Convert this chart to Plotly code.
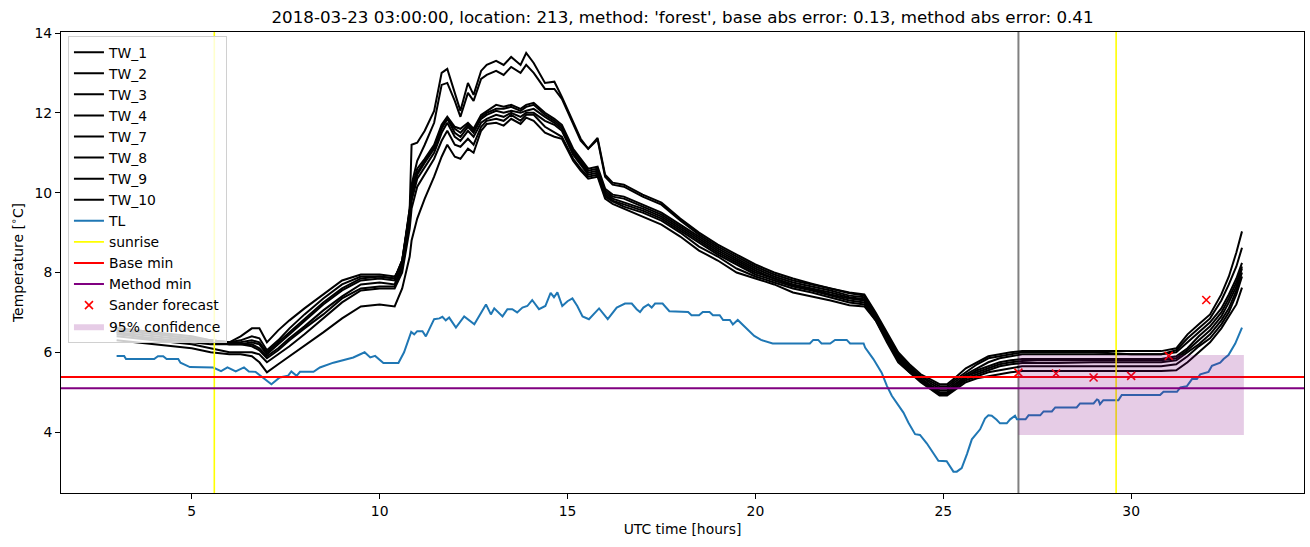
import plotly.graph_objects as go

# ---------------- data ----------------
HOURS = [3.0, 3.5, 4.0, 4.5, 5.0, 5.5, 6.0, 6.3, 6.6, 6.8, 7.0, 7.3, 7.6, 8.0, 8.5, 9.0, 9.5, 10.0, 10.4,
         10.6, 10.8, 10.85, 11.0,
         11.2, 11.45, 11.65, 11.8, 12.0, 12.15, 12.35, 12.5, 12.7, 12.85, 13.1, 13.3, 13.5, 13.75, 13.9, 14.1,
         14.4, 14.65, 14.85, 15.15, 15.35, 15.55, 15.8, 16.0, 16.2, 16.5,
         17.0, 17.5, 18.0, 18.5, 19.0, 19.5, 20.0, 20.5, 21.0, 21.5, 22.0, 22.5, 22.9,
         23.2, 23.5, 23.8, 24.1, 24.4, 24.7, 24.9, 25.1, 25.3, 25.6, 25.9, 26.2, 26.5, 26.8, 27.1,
         27.5, 28.0, 29.0, 30.0, 30.8, 31.2, 31.5, 31.8, 32.1, 32.4, 32.6, 32.8, 32.95]

TW_1 = [6.6, 6.55, 6.5, 6.45, 6.4, 6.3, 6.25, 6.4, 6.6, 6.6, 6.25, 6.55, 6.8, 7.1, 7.45, 7.8, 7.95, 7.95, 7.9,
        8.2, 9.6, 11.2, 11.25,
        11.55, 12.05, 13.0, 13.1, 12.5, 12.05, 12.75, 12.45, 13.05, 13.2, 13.3, 13.2, 13.4, 13.2, 13.5, 13.25,
        12.75, 12.78, 12.4, 11.75, 11.35, 11.1, 11.37, 10.45, 10.25, 10.2,
        9.95, 9.75, 9.35, 9.0, 8.7, 8.45, 8.2, 8.0, 7.85, 7.72, 7.6, 7.5, 7.45,
        7.0, 6.5, 6.0, 5.7, 5.45, 5.3, 5.2, 5.2, 5.35, 5.6, 5.75, 5.9, 5.95, 6.0, 6.03,
        6.03, 6.03, 6.03, 6.03, 6.03, 6.1, 6.45, 6.7, 6.95, 7.45, 7.9, 8.5, 9.03]
TW_2 = [6.6, 6.55, 6.5, 6.4, 6.35, 6.3, 6.25, 6.3, 6.4, 6.35, 6.05, 6.3, 6.6, 6.95, 7.35, 7.7, 7.9, 7.9, 7.85,
        8.3, 9.5, 10.2, 10.8,
        11.2, 11.75, 12.7, 12.75, 12.3, 11.9, 12.5, 12.3, 12.85, 12.95, 13.05, 12.95, 13.15, 13.0, 13.2, 13.0,
        12.6, 12.6, 12.35, 11.7, 11.3, 11.1, 11.33, 10.4, 10.2, 10.15,
        9.9, 9.7, 9.3, 8.95, 8.65, 8.4, 8.15, 7.95, 7.8, 7.7, 7.6, 7.48, 7.42,
        6.95, 6.45, 5.95, 5.65, 5.4, 5.25, 5.15, 5.15, 5.3, 5.5, 5.7, 5.85, 5.9, 5.95, 6.0,
        6.0, 6.0, 6.0, 5.95, 5.95, 6.05, 6.35, 6.6, 6.85, 7.3, 7.7, 8.15, 8.62]
TW_3 = [6.55, 6.5, 6.45, 6.4, 6.35, 6.3, 6.25, 6.25, 6.3, 6.25, 6.0, 6.25, 6.5, 6.85, 7.25, 7.6, 7.85, 7.9, 7.85,
        8.3, 9.6, 10.1, 10.6,
        10.85, 11.2, 11.7, 11.9, 11.65, 11.6, 11.75, 11.6, 11.95, 12.05, 12.2, 12.15, 12.2, 12.1, 12.2, 12.25,
        12.0, 11.85, 11.7, 11.1, 10.85, 10.6, 10.65, 10.1, 9.95, 9.9,
        9.7, 9.5, 9.2, 8.9, 8.6, 8.35, 8.1, 7.9, 7.75, 7.65, 7.55, 7.42, 7.38,
        6.9, 6.4, 5.9, 5.6, 5.4, 5.2, 5.1, 5.1, 5.25, 5.45, 5.6, 5.75, 5.85, 5.9, 5.95,
        5.95, 5.95, 5.95, 5.95, 5.95, 6.0, 6.25, 6.5, 6.75, 7.1, 7.45, 7.85, 8.24]
TW_4 = [6.5, 6.45, 6.4, 6.35, 6.3, 6.25, 6.2, 6.2, 6.25, 6.2, 5.95, 6.2, 6.45, 6.8, 7.2, 7.55, 7.8, 7.85, 7.8,
        8.3, 9.5, 10.0, 10.5,
        10.8, 11.15, 11.65, 11.85, 11.6, 11.5, 11.7, 11.55, 11.9, 12.0, 12.1, 12.1, 12.15, 12.05, 12.15, 12.2,
        11.95, 11.8, 11.65, 11.05, 10.8, 10.55, 10.6, 10.05, 9.9, 9.85,
        9.65, 9.45, 9.15, 8.85, 8.55, 8.3, 8.05, 7.85, 7.7, 7.6, 7.5, 7.38, 7.33,
        6.9, 6.4, 5.9, 5.6, 5.35, 5.15, 5.05, 5.05, 5.2, 5.4, 5.55, 5.65, 5.75, 5.8, 5.83,
        5.83, 5.83, 5.83, 5.83, 5.83, 5.9, 6.1, 6.4, 6.65, 7.0, 7.35, 7.75, 8.15]
TW_7 = [6.5, 6.4, 6.35, 6.3, 6.3, 6.25, 6.2, 6.2, 6.2, 6.1, 5.9, 6.1, 6.35, 6.65, 7.05, 7.4, 7.7, 7.75, 7.7,
        8.2, 9.4, 9.9, 10.45,
        10.75, 11.1, 11.6, 11.85, 11.5, 11.4, 11.65, 11.5, 11.85, 11.95, 12.05, 12.0, 12.05, 12.0, 12.05, 12.1,
        11.9, 11.75, 11.6, 11.0, 10.75, 10.5, 10.55, 10.0, 9.85, 9.75,
        9.6, 9.4, 9.1, 8.8, 8.5, 8.25, 8.0, 7.85, 7.68, 7.58, 7.45, 7.35, 7.3,
        6.85, 6.35, 5.85, 5.55, 5.35, 5.15, 5.0, 5.0, 5.15, 5.4, 5.5, 5.6, 5.7, 5.75, 5.78,
        5.8, 5.8, 5.8, 5.8, 5.8, 5.85, 6.05, 6.3, 6.55, 6.9, 7.25, 7.65, 8.1]
TW_8 = [6.45, 6.4, 6.3, 6.3, 6.25, 6.2, 6.2, 6.2, 6.15, 6.05, 5.85, 6.05, 6.3, 6.6, 6.95, 7.35, 7.6, 7.65, 7.65,
        8.1, 9.3, 9.8, 10.35,
        10.65, 11.0, 11.5, 11.75, 11.4, 11.3, 11.55, 11.4, 11.75, 11.85, 11.95, 11.9, 12.0, 11.9, 12.0, 12.0,
        11.8, 11.7, 11.55, 10.95, 10.7, 10.45, 10.5, 9.95, 9.8, 9.7,
        9.55, 9.35, 9.05, 8.75, 8.45, 8.2, 7.95, 7.8, 7.65, 7.55, 7.42, 7.3, 7.25,
        6.85, 6.3, 5.85, 5.55, 5.3, 5.1, 4.97, 4.97, 5.1, 5.35, 5.45, 5.55, 5.65, 5.7, 5.73,
        5.73, 5.73, 5.75, 5.75, 5.75, 5.8, 6.0, 6.2, 6.45, 6.8, 7.1, 7.55, 8.0]
TW_9 = [6.4, 6.35, 6.3, 6.25, 6.2, 6.1, 6.0, 6.0, 6.0, 5.95, 5.75, 5.95, 6.15, 6.45, 6.85, 7.25, 7.55, 7.6, 7.6,
        8.0, 9.1, 9.6, 10.15,
        10.45, 10.85, 11.3, 11.55, 11.2, 11.15, 11.35, 11.2, 11.65, 11.8, 11.85, 11.8, 11.95, 11.8, 11.95, 11.95,
        11.65, 11.5, 11.4, 10.85, 10.6, 10.4, 10.45, 9.9, 9.78, 9.65,
        9.5, 9.3, 9.0, 8.65, 8.4, 8.1, 7.9, 7.75, 7.6, 7.5, 7.38, 7.25, 7.2,
        6.8, 6.3, 5.8, 5.5, 5.3, 5.1, 4.95, 4.95, 5.1, 5.3, 5.4, 5.5, 5.55, 5.6, 5.65,
        5.65, 5.65, 5.65, 5.65, 5.65, 5.7, 5.9, 6.15, 6.35, 6.7, 7.0, 7.45, 7.9]
TW_10 = [6.3, 6.25, 6.2, 6.15, 6.1, 6.0, 5.95, 5.95, 5.9, 5.75, 5.5, 5.7, 5.9, 6.15, 6.5, 6.85, 7.15, 7.2, 7.15,
         7.6, 8.4, 8.8, 9.35,
         9.85, 10.4, 10.9, 11.2, 10.9, 10.85, 11.1, 11.0, 11.55, 11.72, 11.75, 11.68, 11.85, 11.72, 11.88, 11.8,
         11.5, 11.4, 11.35, 10.8, 10.55, 10.35, 10.4, 9.85, 9.72, 9.6,
         9.4, 9.2, 8.9, 8.55, 8.3, 8.0, 7.85, 7.7, 7.5, 7.4, 7.3, 7.18, 7.15,
         6.8, 6.25, 5.75, 5.5, 5.25, 5.05, 4.92, 4.92, 5.05, 5.25, 5.35, 5.4, 5.45, 5.5, 5.53,
         5.53, 5.53, 5.53, 5.53, 5.53, 5.55, 5.75, 6.0, 6.25, 6.6, 6.9, 7.2, 7.62]

TL_HOURS = [3.0, 3.2, 3.25, 4.0, 4.1, 4.24, 4.33, 4.64, 4.7, 4.95, 5.57, 5.78, 5.95, 6.17, 6.39, 6.52, 6.7, 6.88,
            7.12, 7.34, 7.56, 7.65, 7.79, 7.88, 8.24, 8.41, 8.77, 9.3, 9.6, 9.75, 9.88, 10.1, 10.5, 10.65, 10.8,
            10.84, 10.92, 11.0, 11.14, 11.23, 11.45, 11.59, 11.67, 11.76, 11.85, 12.03, 12.25, 12.38, 12.52,
            12.83, 12.96, 13.05, 13.27, 13.4, 13.53, 13.66, 13.8, 13.93, 14.06, 14.24, 14.41, 14.55, 14.64,
            14.73, 14.86, 15.0, 15.13, 15.26, 15.4, 15.57, 15.84, 16.07, 16.31, 16.53, 16.71, 16.84, 16.93,
            17.02, 17.15, 17.24, 17.33, 17.53, 17.71, 18.21, 18.3, 18.5, 18.6, 18.78, 18.87, 19.05, 19.14,
            19.32, 19.4, 19.53, 19.75, 19.97, 20.15, 20.46, 21.45, 21.54, 21.67, 21.76, 21.99, 22.12, 22.43,
            22.52, 22.88, 22.92, 23.14, 23.36, 23.5, 23.63, 23.94, 24.07, 24.25, 24.38, 24.56, 24.69, 24.87,
            25.09, 25.27, 25.36, 25.49, 25.63, 25.76, 25.98, 26.11, 26.2, 26.29, 26.42, 26.51, 26.69, 26.78,
            26.91, 26.96, 27.19, 27.27, 27.58, 27.67, 27.89, 27.98, 28.55, 28.64, 29.0, 29.09, 29.13, 29.17,
            29.26, 29.66, 29.75, 30.77, 30.86, 31.22, 31.31, 31.48, 31.62, 31.75, 31.84, 32.06, 32.15, 32.37,
            32.46, 32.59, 32.77, 32.95]
TL_TEMP = [5.91, 5.91, 5.83, 5.83, 5.9, 5.9, 5.83, 5.83, 5.74, 5.63, 5.62, 5.53, 5.62, 5.52, 5.62, 5.52, 5.51, 5.37,
           5.2, 5.37, 5.41, 5.52, 5.41, 5.51, 5.51, 5.62, 5.74, 5.87, 6.0, 5.87, 5.91, 5.73, 5.73, 6.0, 6.37,
           6.51, 6.45, 6.53, 6.53, 6.4, 6.83, 6.85, 6.89, 6.8, 6.87, 6.62, 6.9, 6.8, 6.7,
           7.2, 6.95, 7.1, 6.9, 7.08, 7.08, 7.0, 7.12, 7.16, 7.31, 7.08, 7.16, 7.49, 7.38,
           7.5, 7.16, 7.28, 7.35, 7.16, 6.9, 6.83, 7.1, 6.83, 7.12, 7.22, 7.22, 7.08, 7.01,
           7.12, 7.2, 7.12, 7.22, 7.22, 7.03, 7.01, 6.93, 6.93, 7.01, 7.01, 6.93, 6.93, 6.81,
           6.81, 6.7, 6.81, 6.62, 6.41, 6.31, 6.22, 6.22, 6.31, 6.31, 6.22, 6.22, 6.31, 6.31,
           6.22, 6.22, 6.12, 5.83, 5.49, 5.16, 4.91, 4.49, 4.24, 3.95, 3.93, 3.72, 3.53, 3.28,
           3.27, 3.01, 3.01, 3.1, 3.45, 3.82, 4.07, 4.34, 4.42, 4.41, 4.31, 4.22, 4.22, 4.32,
           4.41, 4.32, 4.32, 4.42, 4.42, 4.52, 4.52, 4.62, 4.62, 4.72, 4.72, 4.82, 4.8, 4.7,
           4.8, 4.8, 4.93, 4.93, 5.01, 5.01, 5.12, 5.15, 5.33, 5.33, 5.45, 5.51, 5.66, 5.74,
           5.83, 5.93, 6.22, 6.62]

SUNRISE = [5.6, 29.6]
FORECAST_START = 27.0
BASE_MIN = 5.38
METHOD_MIN = 5.1
SANDER_HOURS = [27, 28, 29, 30, 31, 32]
SANDER_TEMP = [5.49, 5.47, 5.37, 5.41, 5.91, 7.31]
CONF_HOURS = [27, 33]
CONF_LOW = [3.93, 3.93]
CONF_HIGH = [5.93, 5.93]

TITLE = "2018-03-23 03:00:00, location: 213, method: 'forest', base abs error: 0.13, method abs error: 0.41"

# ---------------- layout constants ----------------
XR = [1.52, 34.6]
YR = [2.475, 14.025]
FONT = "DejaVu Sans"

fig = go.Figure()

# forecast start marker (no legend entry)
fig.add_trace(go.Scatter(x=[FORECAST_START, FORECAST_START], y=YR, mode="lines",
                         line=dict(color="#808080", width=2), showlegend=False, hoverinfo="skip"))

tw_series = [("TW_1", TW_1), ("TW_2", TW_2), ("TW_3", TW_3), ("TW_4", TW_4),
             ("TW_7", TW_7), ("TW_8", TW_8), ("TW_9", TW_9), ("TW_10", TW_10)]
for name, vals in tw_series:
    fig.add_trace(go.Scatter(x=HOURS, y=vals, mode="lines", name=name,
                             line=dict(color="black", width=2)))

fig.add_trace(go.Scatter(x=TL_HOURS, y=TL_TEMP, mode="lines", name="TL",
                         line=dict(color="#1f77b4", width=2)))

sx, sy = [], []
for s in SUNRISE:
    sx += [s, s, None]
    sy += [YR[0], YR[1], None]
fig.add_trace(go.Scatter(x=sx, y=sy, mode="lines", name="sunrise",
                         line=dict(color="yellow", width=1.6)))

fig.add_trace(go.Scatter(x=XR, y=[BASE_MIN, BASE_MIN], mode="lines", name="Base min",
                         line=dict(color="red", width=2)))
fig.add_trace(go.Scatter(x=XR, y=[METHOD_MIN, METHOD_MIN], mode="lines", name="Method min",
                         line=dict(color="purple", width=2)))

fig.add_trace(go.Scatter(x=SANDER_HOURS, y=SANDER_TEMP, mode="markers", name="Sander forecast",
                         marker=dict(symbol="x-thin", size=8, color="red",
                                     line=dict(color="red", width=1.6))))

fig.add_trace(go.Scatter(x=CONF_HOURS, y=CONF_LOW, mode="lines", line=dict(width=0, color="rgba(0,0,0,0)"),
                         showlegend=False, hoverinfo="skip"))
fig.add_trace(go.Scatter(x=CONF_HOURS, y=CONF_HIGH, mode="lines", name="95% confidence",
                         line=dict(width=0, color="rgba(128,0,128,0.2)"),
                         fill="tonexty", fillcolor="rgba(128,0,128,0.2)"))

axis_common = dict(showline=True, linecolor="black", linewidth=1, mirror=True,
                   ticks="outside", ticklen=5, tickwidth=1, tickcolor="black",
                   showgrid=False, zeroline=False, automargin=False,
                   tickfont=dict(family=FONT, size=13.9, color="black"))

fig.update_xaxes(range=XR, tickmode="array", tickvals=[5, 10, 15, 20, 25, 30],
                 title=dict(text="UTC time [hours]", font=dict(family=FONT, size=13.9, color="black"),
                            standoff=6),
                 **axis_common)
fig.update_yaxes(range=YR, tickmode="array", tickvals=[4, 6, 8, 10, 12, 14],
                 title=dict(text="Temperature [<sup>∘</sup>C]",
                            font=dict(family=FONT, size=13.9, color="black"), standoff=7),
                 **axis_common)

fig.update_layout(
    width=1310, height=547,
    margin=dict(l=61, r=6, t=32, b=54, pad=0, autoexpand=False),
    paper_bgcolor="white", plot_bgcolor="white",
    font=dict(family=FONT, size=13.9, color="black"),
    title=dict(text=TITLE, x=0.5, xref="paper", xanchor="center",
               y=1 - 17 / 547, yref="container", yanchor="middle",
               font=dict(family=FONT, size=16.7, color="black")),
    showlegend=True,
    hovermode=False,
    legend=dict(x=0.0056, y=0.992, xanchor="left", yanchor="top", traceorder="normal",
                bgcolor="rgba(255,255,255,0.8)", bordercolor="#d0d0d0", borderwidth=1,
                font=dict(family=FONT, size=13.9, color="black"),
                tracegroupgap=0, itemwidth=30),
)

fig.write_html("out.html", config={"displayModeBar": False},
               post_script="document.body.style.margin='0';document.body.style.padding='0';")
